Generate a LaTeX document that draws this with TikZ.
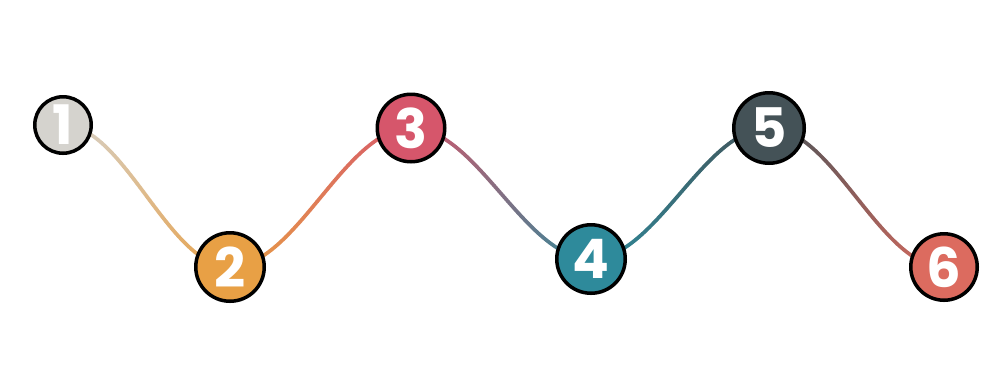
\documentclass[tikz,border=0pt]{standalone}
\usepackage{fontspec}
\setmainfont{Poppins}
\usetikzlibrary{calc,backgrounds}
\definecolor{cA}{HTML}{D5D3CE}
\definecolor{cB}{HTML}{E8A045}
\definecolor{cC}{HTML}{D6566B}
\definecolor{cD}{HTML}{2E8A9B}
\definecolor{cE}{HTML}{445257}
\definecolor{cF}{HTML}{DC6B5F}
\tikzset{
  stepnode/.style={circle, draw=black, line width=2pt, inner sep=0pt, text=white,
    font=\fontsize{31}{31}\selectfont\bfseries},
  wave/.style={line width=2.1pt, line cap=round}
}
\newcommand\gradwave[5]{% #1 start node, #2 end node, #3 colour A, #4 colour B, #5 prefix
  \path let \p1=(#1.center), \p2=(#2.center), \n1={0.365*(\x2-\x1)} in
    (#1.center) .. controls ($(#1.center)+(\n1,0pt)$) and ($(#2.center)+(-\n1,0pt)$) .. (#2.center)
    \foreach \i in {0,...,50} {coordinate[pos=\i/50] (#5\i)};
  \foreach \i [evaluate=\i as \j using int(\i+1), evaluate=\i as \p using int(\i*2)] in {0,...,49}
    \draw[wave, color=#4!\p!#3] (#5\i) -- (#5\j);
}
\begin{document}
\begin{tikzpicture}[x=0.02cm,y=-0.02cm]
\useasboundingbox (0,0) rectangle (1000,380);
\node[stepnode, fill=cA, minimum size=1.13cm] (n1) at (63,125) {1};
\node[stepnode, fill=cB, minimum size=1.37cm] (n2) at (230,267) {2};
\node[stepnode, fill=cC, minimum size=1.35cm] (n3) at (411,128) {3};
\node[stepnode, fill=cD, minimum size=1.37cm] (n4) at (591,259) {4};
\node[stepnode, fill=cE, minimum size=1.41cm] (n5) at (769,128) {5};
\node[stepnode, fill=cF, minimum size=1.33cm] (n6) at (944,267) {6};
\begin{scope}[on background layer]
  \gradwave{n1}{n2}{cA}{cB}{ga}
  \gradwave{n2}{n3}{cB}{cC}{gb}
  \gradwave{n3}{n4}{cC}{cD}{gc}
  \gradwave{n4}{n5}{cD}{cE}{gd}
  \gradwave{n5}{n6}{cE}{cF}{ge}
\end{scope}
\end{tikzpicture}
\end{document}
